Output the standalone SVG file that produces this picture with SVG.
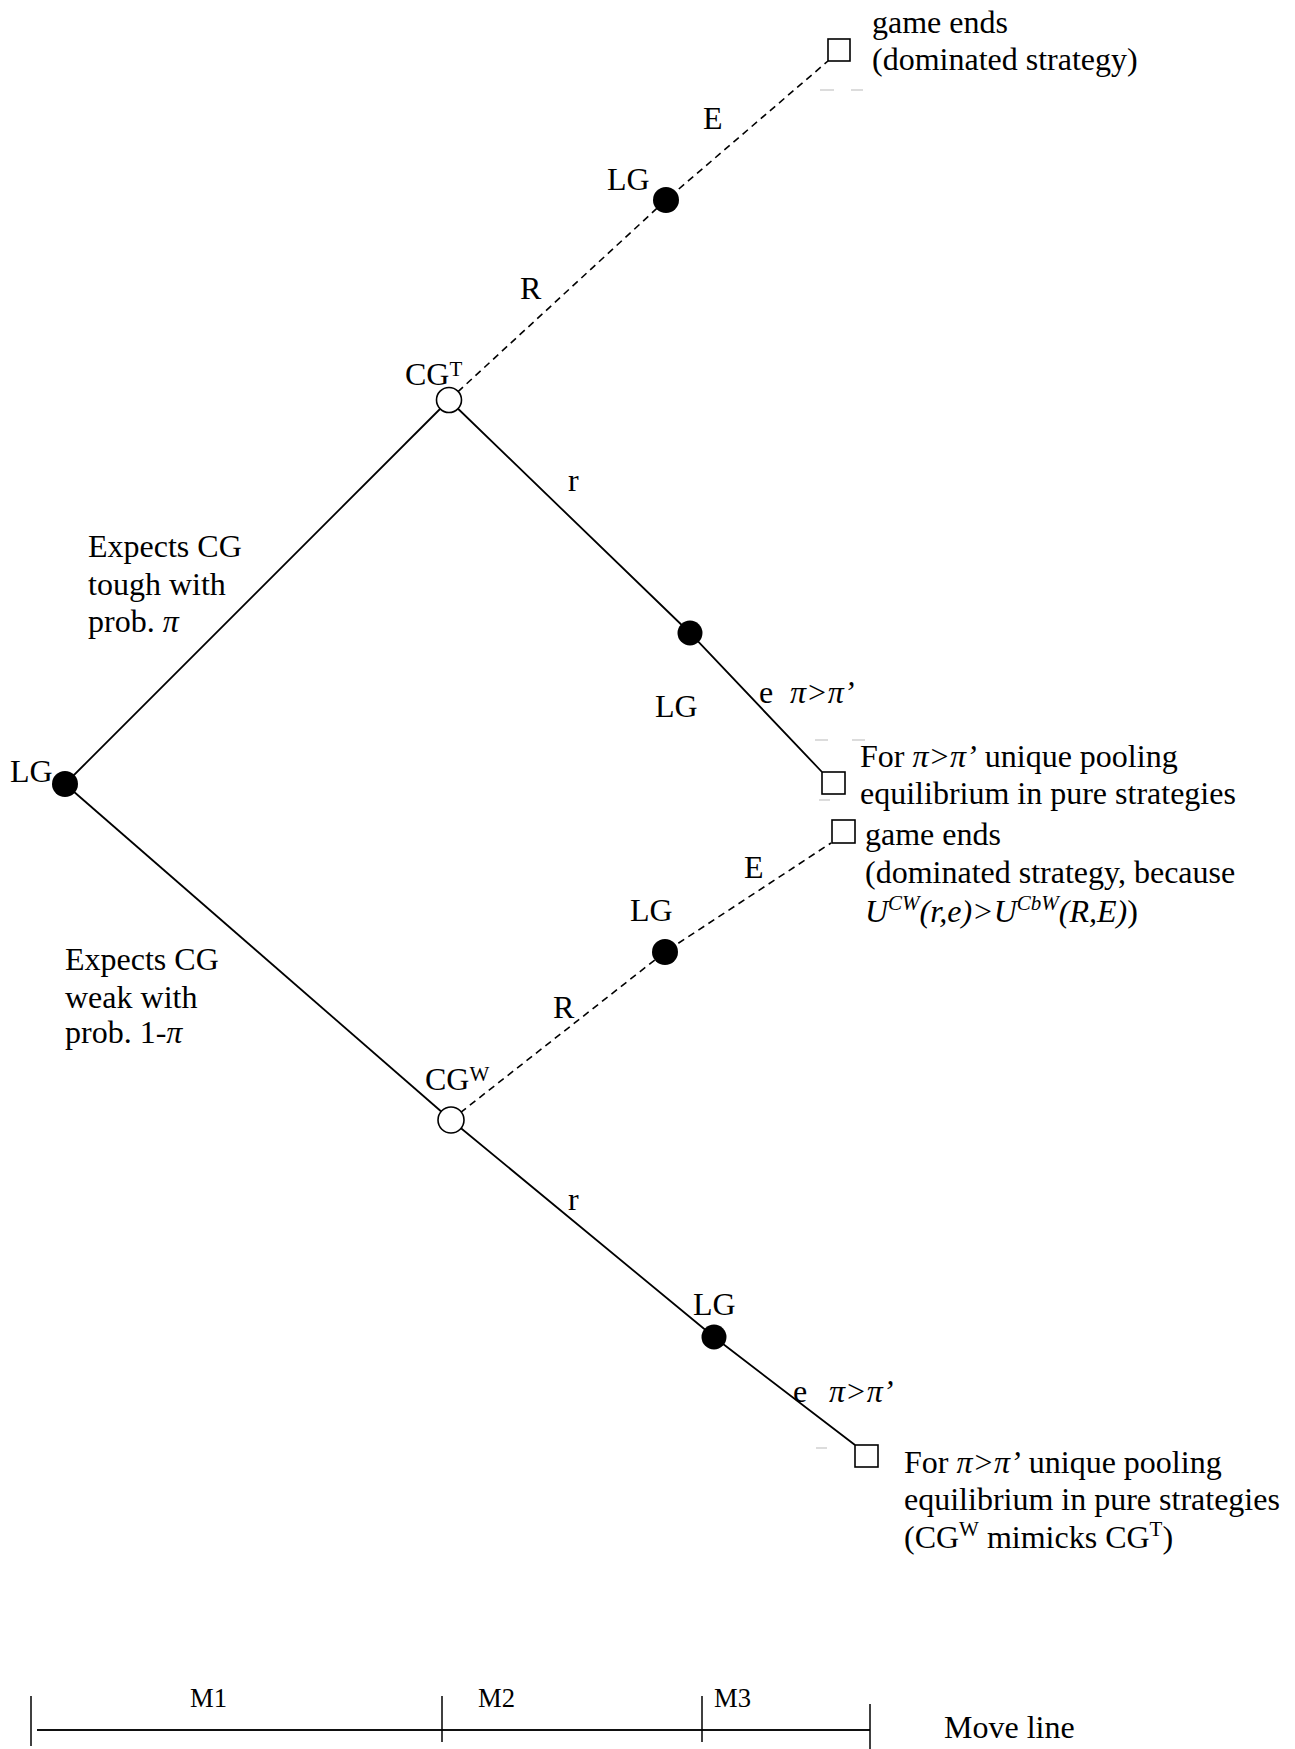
<svg xmlns="http://www.w3.org/2000/svg" width="1295" height="1749" viewBox="0 0 1295 1749">
<style>
text{font-family:"Liberation Serif","Times New Roman",serif;font-size:32px;fill:#000}
.i{font-style:italic}
.sup{font-size:21px}
.edge{stroke:#000;stroke-width:1.8;fill:none}
.dash{stroke-dasharray:7 5;stroke-width:1.6}
.dec{fill:#000}
.chance{fill:#fff;stroke:#000;stroke-width:1.6}
.term{fill:#fff;stroke:#000;stroke-width:1.6}
.ghost{stroke:#dcdcdc;stroke-width:2}
.ml{stroke:#000;stroke-width:1.5}
.mlh{stroke:#111;stroke-width:2.2}
.small{font-size:28px}
</style>
<rect width="1295" height="1749" fill="#fff"/>

<g id="connectors">
<polyline class="edge" points="65,784 449,400"/>
<polyline class="edge" points="65,784 451,1120"/>
<polyline class="edge dash" points="449,400 666,200 828,61"/>
<polyline class="edge" points="449,400 690,633 822,772"/>
<polyline class="edge dash" points="451,1120 665,952 831,843"/>
<polyline class="edge" points="451,1120 714,1337 855,1445"/>
</g>

<g id="ghost-marks">
<line class="ghost" x1="820" y1="90" x2="834" y2="90"/>
<line class="ghost" x1="851" y1="90" x2="863" y2="90"/>
<line class="ghost" x1="815" y1="740" x2="828" y2="740"/>
<line class="ghost" x1="852" y1="740" x2="865" y2="740"/>
<line class="ghost" x1="819" y1="800" x2="830" y2="800"/>
<line class="ghost" x1="816" y1="1448" x2="827" y2="1448"/>
</g>

<g id="lg-root">
<circle class="dec" cx="65" cy="784" r="13"/>
<text x="10" y="782">LG</text>
</g>

<g id="cg-tough">
<circle class="chance" cx="449" cy="400" r="12.5"/>
<text x="405" y="385">CG<tspan class="sup" dy="-9">T</tspan></text>
</g>

<g id="lg-top">
<circle class="dec" cx="666" cy="200" r="13"/>
<text x="607" y="190">LG</text>
</g>

<g id="end-top">
<rect class="term" x="828" y="39" width="22" height="22"/>
<text x="872" y="33">game ends</text>
<text x="872" y="70">(dominated strategy)</text>
</g>

<g id="lg-tough-r">
<circle class="dec" cx="690" cy="633" r="12.5"/>
<text x="655" y="717">LG</text>
</g>

<g id="end-tough-e">
<rect class="term" x="822" y="772" width="23" height="22"/>
<text x="860" y="767">For <tspan class="i">π&gt;π’</tspan> unique pooling</text>
<text x="860" y="804">equilibrium in pure strategies</text>
</g>

<g id="end-weak-E">
<rect class="term" x="832" y="820" width="23" height="23"/>
<text x="865" y="845">game ends</text>
<text x="865" y="883">(dominated strategy, because</text>
<text x="865" y="922" class="i">U<tspan class="sup" dy="-12">CW</tspan><tspan dy="12">(r,e)&gt;U</tspan><tspan class="sup" dy="-12">CbW</tspan><tspan dy="12">(R,E)</tspan><tspan font-style="normal">)</tspan></text>
</g>

<g id="lg-weak-R">
<circle class="dec" cx="665" cy="952" r="13"/>
<text x="630" y="921">LG</text>
</g>

<g id="cg-weak">
<circle class="chance" cx="451" cy="1120" r="13"/>
<text x="425" y="1090">CG<tspan class="sup" dy="-9">W</tspan></text>
</g>

<g id="lg-weak-r">
<circle class="dec" cx="714" cy="1337" r="12.5"/>
<text x="693" y="1315">LG</text>
</g>

<g id="end-weak-e">
<rect class="term" x="855" y="1445" width="23" height="22"/>
<text x="904" y="1473">For <tspan class="i">π&gt;π’</tspan> unique pooling</text>
<text x="904" y="1510">equilibrium in pure strategies</text>
<text x="904" y="1548">(CG<tspan class="sup" dy="-12">W</tspan><tspan dy="12"> mimicks CG</tspan><tspan class="sup" dy="-12">T</tspan><tspan dy="12">)</tspan></text>
</g>

<g id="edge-labels">
<text x="703" y="129">E</text>
<text x="520" y="299">R</text>
<text x="568" y="491">r</text>
<text x="759" y="703">e</text>
<text x="790" y="703" class="i">π&gt;π’</text>
<text x="744" y="878">E</text>
<text x="553" y="1018">R</text>
<text x="568" y="1210">r</text>
<text x="793" y="1402">e</text>
<text x="829" y="1402" class="i">π&gt;π’</text>
<text x="88" y="557">Expects CG</text>
<text x="88" y="595">tough with</text>
<text x="88" y="632">prob. <tspan class="i">π</tspan></text>
<text x="65" y="970">Expects CG</text>
<text x="65" y="1008">weak with</text>
<text x="65" y="1043">prob. 1-<tspan class="i">π</tspan></text>
</g>

<g id="move-line">
<line class="mlh" x1="37" y1="1730" x2="870" y2="1730"/>
<line class="ml" x1="31" y1="1696" x2="31" y2="1746"/>
<line class="ml" x1="442" y1="1696" x2="442" y2="1742"/>
<line class="ml" x1="702" y1="1696" x2="702" y2="1742"/>
<line class="ml" x1="870" y1="1704" x2="870" y2="1749"/>
<text class="small" x="190" y="1707" textLength="37" lengthAdjust="spacingAndGlyphs">M1</text>
<text class="small" x="478" y="1707" textLength="37" lengthAdjust="spacingAndGlyphs">M2</text>
<text class="small" x="714" y="1707" textLength="37" lengthAdjust="spacingAndGlyphs">M3</text>
<text x="944" y="1738">Move line</text>
</g>
</svg>
